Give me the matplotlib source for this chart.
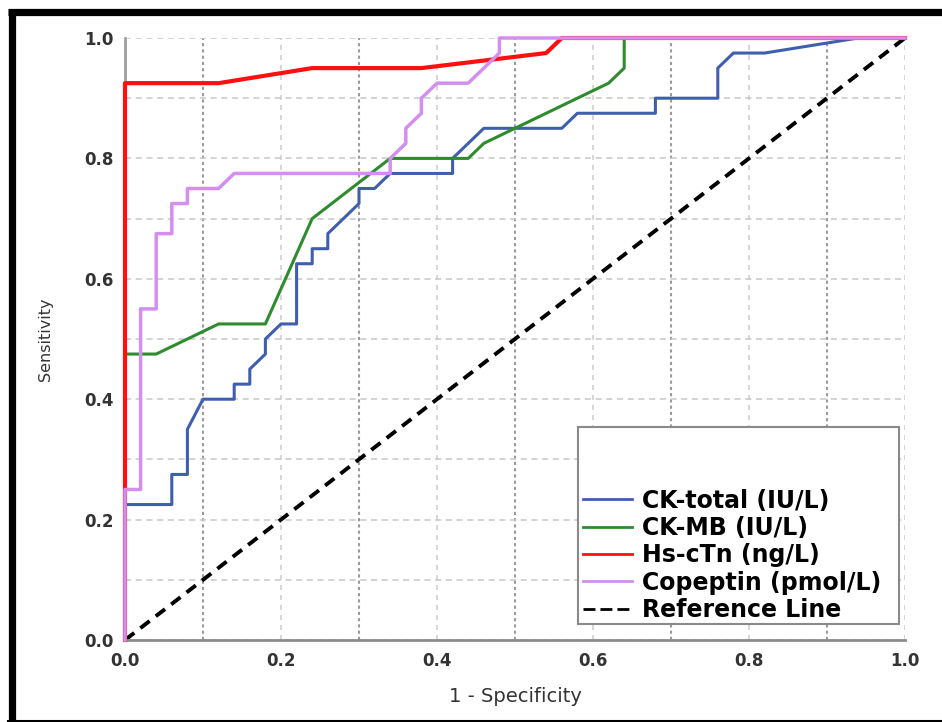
import numpy as np
import matplotlib
matplotlib.use("Agg")
import matplotlib.pyplot as plt
from matplotlib.lines import Line2D
from matplotlib.patches import Rectangle

plt.rcParams['font.family'] = 'DejaVu Sans'

# ROC curve coordinates (1 - specificity, sensitivity)
ck_total_fpr = [0, 0, 0.06, 0.06, 0.08, 0.08, 0.10, 0.14, 0.14, 0.16, 0.16, 0.18, 0.18,
                0.20, 0.22, 0.22, 0.24, 0.24, 0.26, 0.26, 0.30, 0.30, 0.32, 0.34, 0.42,
                0.42, 0.46, 0.56, 0.58, 0.68, 0.68, 0.76, 0.76, 0.78, 0.82, 0.94, 1.0]
ck_total_tpr = [0, 0.225, 0.225, 0.275, 0.275, 0.35, 0.40, 0.40, 0.425, 0.425, 0.45, 0.475, 0.50,
                0.525, 0.525, 0.625, 0.625, 0.65, 0.65, 0.675, 0.725, 0.75, 0.75, 0.775, 0.775,
                0.80, 0.85, 0.85, 0.875, 0.875, 0.90, 0.90, 0.95, 0.975, 0.975, 1.0, 1.0]

ck_mb_fpr = [0, 0, 0.04, 0.12, 0.18, 0.24, 0.34, 0.44, 0.46, 0.62, 0.64, 0.64, 1.0]
ck_mb_tpr = [0, 0.475, 0.475, 0.525, 0.525, 0.70, 0.80, 0.80, 0.825, 0.925, 0.95, 1.0, 1.0]

hs_ctn_fpr = [0, 0, 0.12, 0.24, 0.38, 0.54, 0.56, 1.0]
hs_ctn_tpr = [0, 0.925, 0.925, 0.95, 0.95, 0.975, 1.0, 1.0]

copeptin_fpr = [0, 0, 0.02, 0.02, 0.04, 0.04, 0.06, 0.06, 0.08, 0.08, 0.12, 0.14, 0.34,
                0.34, 0.36, 0.36, 0.38, 0.38, 0.40, 0.44, 0.48, 0.48, 1.0]
copeptin_tpr = [0, 0.25, 0.25, 0.55, 0.55, 0.675, 0.675, 0.725, 0.725, 0.75, 0.75, 0.775, 0.775,
                0.80, 0.825, 0.85, 0.875, 0.90, 0.925, 0.925, 0.975, 1.0, 1.0]

ref_x = [0, 1]
ref_y = [0, 1]

labels = ['CK-total (IU/L)', 'CK-MB (IU/L)', 'Hs-cTn (ng/L)', 'Copeptin (pmol/L)', 'Reference Line']

fig = plt.figure(figsize=(9.42, 7.22), dpi=100)
ax = fig.add_axes([125/942, 1 - 640/722, 780/942, 602/722])

# grid
ax.set_xticks(np.arange(0, 1.01, 0.2))
ax.set_xticks(np.arange(0.1, 1.0, 0.2), minor=True)
ax.set_yticks(np.arange(0, 1.01, 0.2))
ax.set_yticks(np.arange(0.1, 1.0, 0.2), minor=True)
ax.grid(axis='x', which='major', color='#d0d0d0', linestyle=(0, (3, 3)), linewidth=1.2)
ax.grid(axis='x', which='minor', color='#9a9a9a', linestyle=(0, (1.5, 1.5)), linewidth=1.5)
ax.grid(axis='y', which='both', color='#c8c8c8', linestyle=(0, (4, 3)), linewidth=1.1)
ax.set_axisbelow(True)

ax.plot(ref_x, ref_y, color='black', lw=2.8, dashes=(3, 2), clip_on=False, zorder=2)
ax.plot(ck_total_fpr, ck_total_tpr, color='#3f5fae', lw=2.2, clip_on=False, zorder=3)
ax.plot(ck_mb_fpr, ck_mb_tpr, color='#2e8b2e', lw=2.2, clip_on=False, zorder=3)
ax.plot(hs_ctn_fpr, hs_ctn_tpr, color='#ff1010', lw=3, clip_on=False, zorder=4)
ax.plot(copeptin_fpr, copeptin_tpr, color='#d38ef0', lw=2.5, clip_on=False, zorder=5)

ax.set_xlim(0, 1)
ax.set_ylim(0, 1)
ax.set_xticklabels(['0.0', '0.2', '0.4', '0.6', '0.8', '1.0'])
ax.set_yticklabels(['0.0', '0.2', '0.4', '0.6', '0.8', '1.0'])
ax.tick_params(which='both', length=0)
ax.tick_params(axis='y', pad=8, labelsize=12, labelcolor='#333333')
ax.tick_params(axis='x', pad=9, labelsize=12, labelcolor='#333333')
for t in ax.get_xticklabels() + ax.get_yticklabels():
    t.set_fontweight('bold')

for s in ['top', 'right']:
    ax.spines[s].set_visible(False)
ax.spines['left'].set_color('#a0a0a0')
ax.spines['bottom'].set_color('#8c8c8c')
ax.spines['left'].set_linewidth(2)
ax.spines['bottom'].set_linewidth(2)

ax.set_xlabel('1 - Specificity', fontsize=14, color='#333333')
ax.set_ylabel('Sensitivity', fontsize=11.5, color='#333333')
ax.xaxis.set_label_coords(0.5, (640 - 697) / 602)
ax.xaxis.label.set_va('center')
ax.yaxis.set_label_coords((46 - 125) / 780, 0.5)
ax.yaxis.label.set_va('center')

# legend
lines = ax.get_lines()
handles = [lines[1], lines[2], lines[3], lines[4], lines[0]]
leg = ax.legend(handles, labels, loc='lower left', bbox_to_anchor=(0.587, 0.03),
                frameon=False, borderpad=0, borderaxespad=0, handlelength=2.1,
                handletextpad=0.4, labelspacing=0.14, prop={'weight': 'bold', 'size': 17})
for l in leg.get_lines():
    l.set_linewidth(2)
leg.get_lines()[-1].set_dashes((4.3, 1.8))
leg.set_zorder(10)
ax.add_patch(Rectangle((0.581, 0.0266), 0.992 - 0.581, 0.354 - 0.0266, transform=ax.transAxes,
                       fill=True, facecolor='white', edgecolor='#8a8a8a', lw=1.5, zorder=9))

# black frame around picture
fig.add_artist(Line2D([11.5/942, 11.5/942], [0, 1 - 9/722], color='black', lw=5.2,
                      solid_capstyle='butt'))
fig.add_artist(Line2D([8/942, 1], [1 - 12/722, 1 - 12/722], color='black', lw=5.2,
                      solid_capstyle='butt'))
fig.add_artist(Line2D([8/942, 1], [1/722, 1/722], color='black', lw=1.5))

fig.savefig('out.png', dpi=100)
